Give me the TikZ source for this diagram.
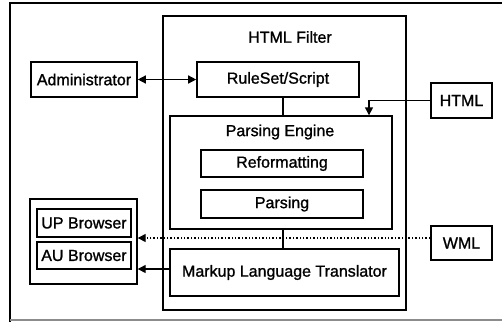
\documentclass[tikz,border=0pt]{standalone}
\usepackage{fontspec}
\setmainfont{Liberation Sans}
\newfontface\boxfont{Liberation Sans}[FakeBold=1.2]
\usetikzlibrary{arrows.meta,positioning}
\begin{document}
\begin{tikzpicture}[x=1pt,y=-1pt,
  box/.style={draw,line width=1.6pt,inner sep=0pt,font=\boxfont\fontsize{16}{18}\selectfont},
  frame/.style={draw,line width=1.4pt},
  lbl/.style={font=\boxfont\fontsize{16}{18}\selectfont,inner sep=0pt},
  conn/.style={line width=1.4pt},
  tip/.style={-{Triangle[length=8pt,width=8pt]}},
  dtip/.style={{Triangle[length=8pt,width=8pt]}-{Triangle[length=8pt,width=8pt]}}]
\useasboundingbox (0,0) rectangle (502,322);
% outer frame
\draw[line width=1.4pt] (502,3) -- (10,3) -- (10,322);
\draw[line width=1.2pt,black!45] (10,320) -- (502,320);
% HTML filter
\node[frame,minimum width=243pt,minimum height=294pt,inner sep=0pt] (filter) at (284.5,163) {};
\node[lbl] (ftitle) at (290,37) {HTML Filter};
% boxes
\node[box,minimum width=106pt,minimum height=35pt] (admin) at (84,79.5) {Administrator};
\node[box,minimum width=162pt,minimum height=35pt] (rule) at (278,79.5) {RuleSet/Script};
\node[frame,minimum width=222pt,minimum height=113pt] (engine) at (281,172.5) {};
\node[lbl] (etitle) at (280,132) {Parsing Engine};
\node[box,minimum width=162pt,minimum height=27pt] (reform) at (282,163.5) {Reformatting};
\node[box,minimum width=162pt,minimum height=28pt] (parse) at (282,204) {Parsing};
\node[box,minimum width=229pt,minimum height=47pt] (markup) at (284.5,272.5) {Markup Language Translator};
\node[box,minimum width=61pt,minimum height=35pt] (html) at (461.5,100.5) {HTML};
\node[box,minimum width=61pt,minimum height=34pt] (wml) at (461.5,243) {WML};
\node[frame,minimum width=107pt,minimum height=85pt] (browsers) at (83.5,241.5) {};
\node[box,minimum width=94pt,minimum height=28pt] (up) at (84,223) {UP Browser};
\node[box,minimum width=94pt,minimum height=27pt] (au) at (84,255.5) {AU Browser};
% connectors
\draw[conn,dtip] (admin.east) -- (rule.west);
\draw[conn] (rule.south -| 283,0) -- (engine.north -| 283,0);
\draw[conn] (engine.south -| 283,0) -- (markup.north -| 283,0);
\coordinate (hbend) at (369,100.5);
\draw[conn,tip] (html.west) -- (hbend) -- (engine.north -| hbend);
\draw[conn,dotted,tip] (wml.west |- 0,238) -- (browsers.east |- 0,238);
\draw[conn,tip] (markup.west |- 0,269) -- (browsers.east |- 0,269);
\end{tikzpicture}
\end{document}
